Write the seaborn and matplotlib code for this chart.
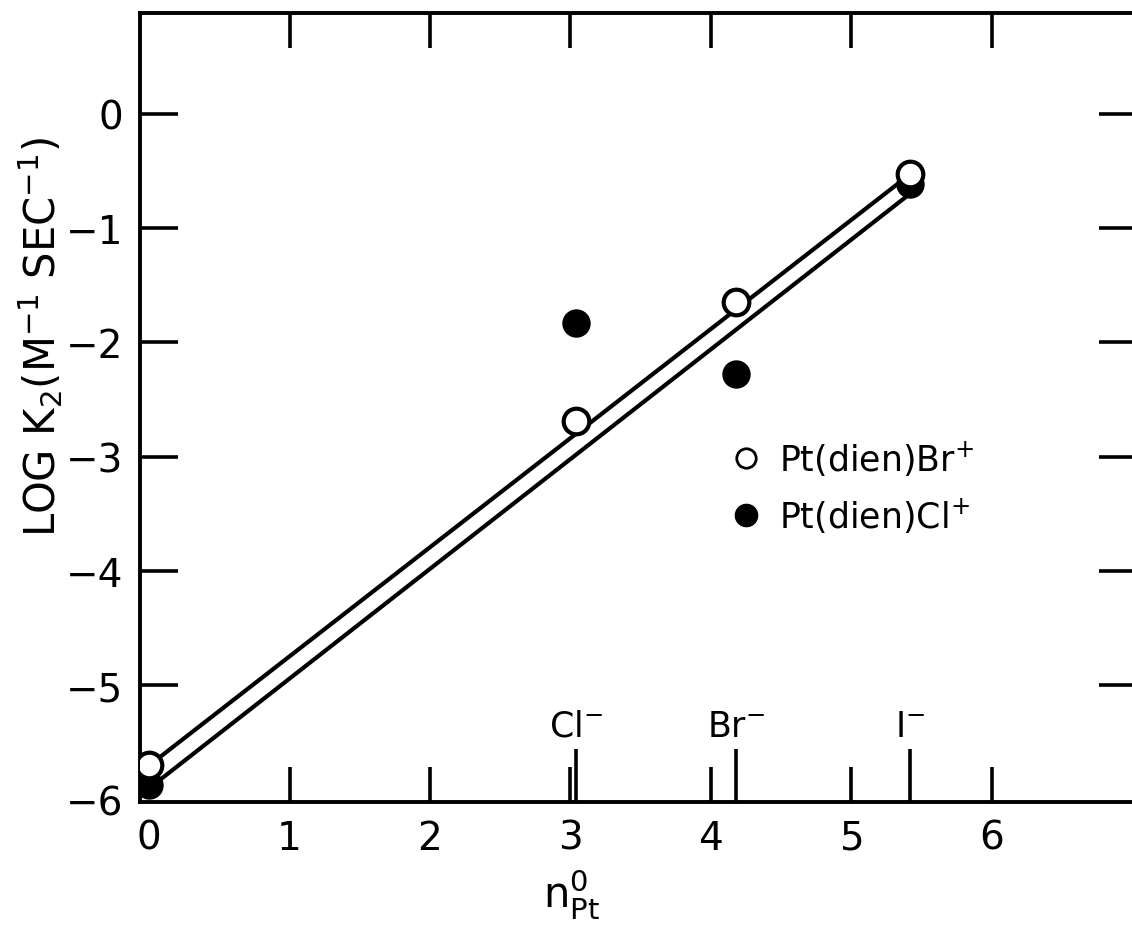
import matplotlib
matplotlib.use("Agg")
import matplotlib.pyplot as plt
import seaborn as sns
import pandas as pd
from matplotlib.lines import Line2D

# ---- data ----
n_pt_br = [0.0, 3.04, 4.18, 5.42]
logk_br = [-5.70, -2.69, -1.65, -0.53]
n_pt_cl = [0.0, 3.04, 4.18, 5.42]
logk_cl = [-5.87, -1.83, -2.28, -0.62]
fit_x = [0.0, 5.42]
fit_br = [-5.70, -0.53]
fit_cl = [-5.90, -0.70]
ion_pos = [3.04, 4.18, 5.42]
ion_labels = ["Cl$^{-}$", "Br$^{-}$", "I$^{-}$"]
y_ticks = [0, -1, -2, -3, -4, -5, -6]
x_ticks = [0, 1, 2, 3, 4, 5, 6]

sns.set_theme(style="white")
plt.rcParams['font.family'] = ['DejaVu Sans']
plt.rcParams['mathtext.fontset'] = 'dejavusans'
plt.rcParams['text.color'] = 'black'
plt.rcParams['axes.labelcolor'] = 'black'
plt.rcParams['xtick.color'] = 'black'
plt.rcParams['ytick.color'] = 'black'

fig = plt.figure(figsize=(11.32, 9.29), dpi=100)
ax = fig.add_axes([0.1237, 0.1356, 0.8800, 0.985 - 0.1356])

df_br = pd.DataFrame({"x": n_pt_br, "y": logk_br})
df_cl = pd.DataFrame({"x": n_pt_cl, "y": logk_cl})
df_fbr = pd.DataFrame({"x": fit_x, "y": fit_br})
df_fcl = pd.DataFrame({"x": fit_x, "y": fit_cl})

sns.lineplot(data=df_fbr, x="x", y="y", ax=ax, color="black", lw=3.0, zorder=2)
sns.lineplot(data=df_fcl, x="x", y="y", ax=ax, color="black", lw=3.0, zorder=2)
sns.scatterplot(data=df_cl, x="x", y="y", ax=ax, color="black", s=340,
                edgecolor="black", linewidth=2, zorder=3)
sns.scatterplot(data=df_br, x="x", y="y", ax=ax, color="white", s=340,
                edgecolor="black", linewidth=3, zorder=4)

ax.set_xlim(-0.065, 7.03)
ax.set_ylim(-6.02, 0.88)

for s in ax.spines.values():
    s.set_linewidth(2.8)
    s.set_color("black")

ax.set_xticks(x_ticks)
ax.set_xticklabels([str(v) for v in x_ticks])
ax.set_yticks(y_ticks)
ax.set_yticklabels([("\u2212" + str(-v)) if v < 0 else str(v) for v in y_ticks])
ax.set_xticks(ion_pos, minor=True)
ax.tick_params(axis="both", which="major", direction="in", width=2.6,
               labelsize=28, colors="black", pad=12)
ax.tick_params(axis="x", which="major", top=True, bottom=True, length=25)
ax.tick_params(axis="y", which="major", left=True, right=True, length=27)
ax.tick_params(axis="x", which="minor", direction="in", length=38, width=2.6,
               bottom=True, top=False)

# no tick marks at the corners (x=0, y=-6), labels kept
xt0 = ax.xaxis.get_major_ticks()[0]
xt0.tick1line.set_visible(False)
xt0.tick2line.set_visible(False)
yt6 = ax.yaxis.get_major_ticks()[-1]
yt6.tick1line.set_visible(False)
yt6.tick2line.set_visible(False)

for pos, lab in zip(ion_pos, ion_labels):
    ax.text(pos, -5.50, lab, ha="center", va="bottom", fontsize=25)

ax.set_xlabel("n$^{0}_{\\mathrm{Pt}}$", fontsize=30)
ax.xaxis.set_label_coords(0.433, -0.082)
ax.set_ylabel("LOG K$_{2}$(M$^{-1}$ SEC$^{-1}$)", fontsize=30)
ax.yaxis.set_label_coords(-0.075, 0.59)

handles = [
    Line2D([], [], marker="o", ls="", markerfacecolor="white", markeredgecolor="black",
           markeredgewidth=2.0, markersize=14, label="Pt(dien)Br$^{+}$"),
    Line2D([], [], marker="o", ls="", markerfacecolor="black", markeredgecolor="black",
           markersize=16, label="Pt(dien)Cl$^{+}$"),
]
ax.legend(handles=handles, loc="center left", bbox_to_anchor=(0.56, 0.40),
          frameon=False, fontsize=25, handletextpad=0.45, labelspacing=0.5,
          handlelength=1.0)

fig.savefig("out.png", dpi=100)
